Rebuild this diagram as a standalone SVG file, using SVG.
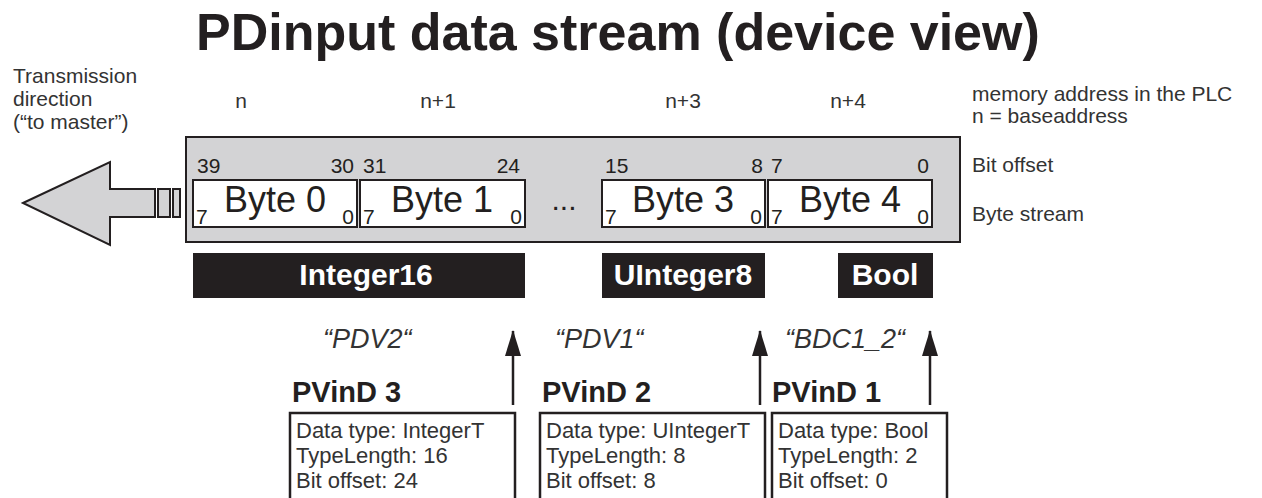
<svg xmlns="http://www.w3.org/2000/svg" width="1262" height="498" viewBox="0 0 1262 498">
<defs>
<style>
text{font-family:"Liberation Sans",Arial,sans-serif;fill:#231f20}
.title{font-size:52px;font-weight:bold}
.lbl{font-size:21px;fill:#333}
.bit{font-size:21px}
.byte{font-size:36px}
.sub{font-size:21px}
.type{font-size:30px;font-weight:bold;fill:#fff;text-anchor:middle}
.pdv{font-size:27px;font-style:italic;fill:#333}
.pv{font-size:29px;font-weight:bold}
.box{font-size:22px;fill:#333}
.grey{fill:#d3d3d5;stroke:#231f20;stroke-width:2}
.bytebox{fill:#fff;stroke:#231f20;stroke-width:2}
.blk{fill:#231f20}
.pvbox{fill:#fff;stroke:#231f20;stroke-width:2.5}
.conn{stroke:#231f20;stroke-width:2.5;fill:none}
</style>
<marker id="ah" markerWidth="18" markerHeight="27" refX="8.5" refY="1" orient="0" markerUnits="userSpaceOnUse">
<path d="M8.5 0 L16.5 26 L0.5 26 Z" fill="#231f20"/>
</marker>
</defs>
<rect width="1262" height="498" fill="#fff"/>
<text class="title" x="196" y="50">PDinput data stream (device view)</text>

<g id="direction">
<text class="lbl" x="13" y="83" font-size="22">Transmission</text>
<text class="lbl" x="13" y="106" font-size="22">direction</text>
<text class="lbl" x="13" y="129" font-size="22">(“to master”)</text>
<polygon class="grey" points="23,203 110,162 110,189 155,189 155,217 110,217 110,245"/>
<rect class="grey" x="158" y="189" width="12" height="28"/>
<rect class="grey" x="173" y="189" width="7" height="28"/>
</g>

<g id="addresses">
<text class="lbl" x="241" y="108" text-anchor="middle">n</text>
<text class="lbl" x="438" y="108" text-anchor="middle">n+1</text>
<text class="lbl" x="683" y="108" text-anchor="middle">n+3</text>
<text class="lbl" x="848" y="108" text-anchor="middle">n+4</text>
<text class="lbl" x="972" y="101" font-size="22">memory address in the PLC</text>
<text class="lbl" x="972" y="123" font-size="22">n = baseaddress</text>
<text class="lbl" x="972" y="172">Bit offset</text>
<text class="lbl" x="972" y="221">Byte stream</text>
</g>

<g id="stream">
<rect class="grey" x="186" y="137" width="774" height="105" stroke-width="2.5"/>
<text class="bit" x="197" y="173">39</text>
<text class="bit" x="354" y="173" text-anchor="end">30</text>
<text class="bit" x="363" y="173">31</text>
<text class="bit" x="520" y="173" text-anchor="end">24</text>
<text class="bit" x="605" y="173">15</text>
<text class="bit" x="763" y="173" text-anchor="end">8</text>
<text class="bit" x="771" y="173">7</text>
<text class="bit" x="929" y="173" text-anchor="end">0</text>
<text x="564" y="210" font-size="30" text-anchor="middle">...</text>
</g>

<g id="byte0">
<rect class="bytebox" x="193" y="180" width="164" height="47"/>
<text class="byte" x="275" y="212" text-anchor="middle">Byte 0</text>
<text class="sub" x="196" y="224">7</text>
<text class="sub" x="354" y="224" text-anchor="end">0</text>
</g>
<g id="byte1">
<rect class="bytebox" x="360" y="180" width="165" height="47"/>
<text class="byte" x="442" y="212" text-anchor="middle">Byte 1</text>
<text class="sub" x="363" y="224">7</text>
<text class="sub" x="522" y="224" text-anchor="end">0</text>
</g>
<g id="byte3">
<rect class="bytebox" x="602" y="180" width="163" height="47"/>
<text class="byte" x="683" y="212" text-anchor="middle">Byte 3</text>
<text class="sub" x="605" y="224">7</text>
<text class="sub" x="762" y="224" text-anchor="end">0</text>
</g>
<g id="byte4">
<rect class="bytebox" x="768" y="180" width="164" height="47"/>
<text class="byte" x="850" y="212" text-anchor="middle">Byte 4</text>
<text class="sub" x="771" y="224">7</text>
<text class="sub" x="929" y="224" text-anchor="end">0</text>
</g>

<g id="integer16">
<rect class="blk" x="193" y="253" width="332" height="45"/>
<text class="type" x="366" y="285">Integer16</text>
</g>
<g id="uinteger8">
<rect class="blk" x="602" y="253" width="163" height="45"/>
<text class="type" x="683" y="285">UInteger8</text>
</g>
<g id="bool">
<rect class="blk" x="838" y="253" width="95" height="45"/>
<text class="type" x="885" y="285">Bool</text>
</g>

<g id="connectors">
<line class="conn" x1="513" y1="405" x2="513" y2="331" marker-end="url(#ah)"/>
<line class="conn" x1="760" y1="405" x2="760" y2="331" marker-end="url(#ah)"/>
<line class="conn" x1="930" y1="405" x2="930" y2="331" marker-end="url(#ah)"/>
</g>

<g id="pvind3">
<text class="pdv" x="323" y="348">“PDV2“</text>
<text class="pv" x="292" y="402">PVinD 3</text>
<path class="pvbox" d="M290 500 V413 H515 V500"/>
<text class="box" x="296" y="438">Data type: IntegerT</text>
<text class="box" x="296" y="463">TypeLength: 16</text>
<text class="box" x="296" y="488">Bit offset: 24</text>
</g>
<g id="pvind2">
<text class="pdv" x="555" y="348">“PDV1“</text>
<text class="pv" x="542" y="402">PVinD 2</text>
<path class="pvbox" d="M540 500 V413 H765 V500"/>
<text class="box" x="546" y="438">Data type: UIntegerT</text>
<text class="box" x="546" y="463">TypeLength: 8</text>
<text class="box" x="546" y="488">Bit offset: 8</text>
</g>
<g id="pvind1">
<text class="pdv" x="785" y="348">“BDC1_2“</text>
<text class="pv" x="772" y="402">PVinD 1</text>
<path class="pvbox" d="M772 500 V413 H947 V500"/>
<text class="box" x="778" y="438">Data type: Bool</text>
<text class="box" x="778" y="463">TypeLength: 2</text>
<text class="box" x="778" y="488">Bit offset: 0</text>
</g>
</svg>
